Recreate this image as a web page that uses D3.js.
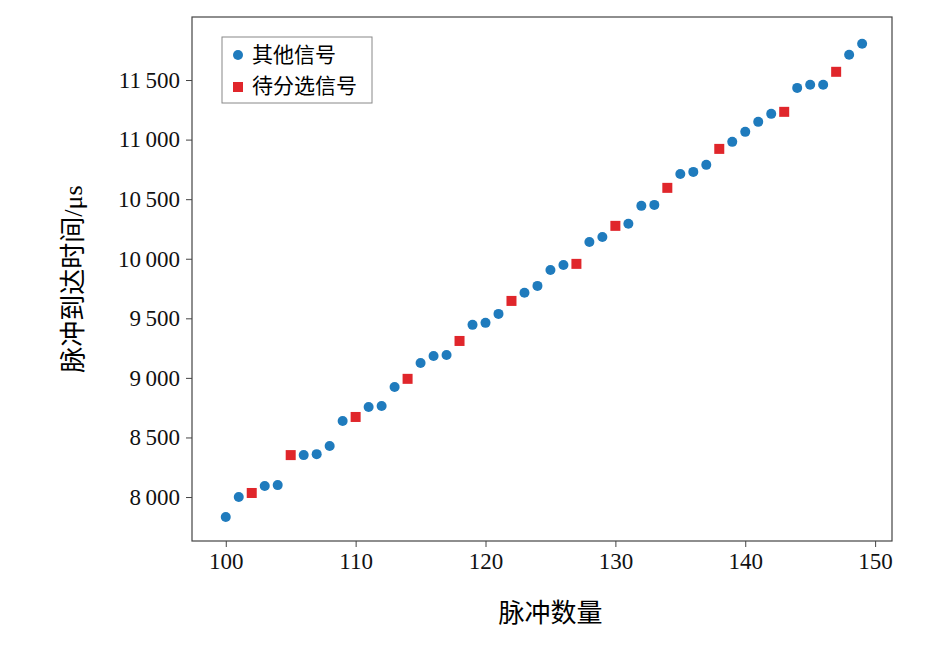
<!DOCTYPE html>
<html><head><meta charset="utf-8">
<script src="https://cdn.jsdelivr.net/npm/d3@7"></script>
<style>body{margin:0;background:#fff}</style>
</head><body><div id="view"></div>
<script>
var pulses = d3.range(100, 150);
var toa = [7832,8000,8034,8092,8100,8352,8352,8360,8428,8638,8672,8756,8764,8924,8992,9125,9184,9192,9310,9445,
  9462,9537,9646,9714,9772,9906,9948,9957,10141,10183,10276,10293,10444,10452,10595,10712,10729,10788,10922,10981,
  11065,11149,11216,11233,11434,11460,11460,11569,11712,11804];
var selected = [102,105,110,114,118,122,127,130,134,138,143,147];
var xTicks = [100,110,120,130,140,150];
var yTicks = [8000,8500,9000,9500,10000,10500,11000,11500];
var legendNames = ['其他信号','待分选信号'];

var W = 952, H = 649, L = 192, R = 892, T = 17, B = 541;
var font = "'Liberation Serif','Times New Roman',Times,'Noto Sans CJK SC',serif";
var x = d3.scaleLinear().domain([97.4, 151.3]).range([L, R]);
var y = d3.scaleLinear().domain([7631, 12029]).range([B, T]);

var svg = d3.select('#view').append('svg').attr('width', W).attr('height', H);

function fmt(v) { return Math.floor(v/1000) + '\u2009' + d3.format('03d')(v%1000); }

var gx = svg.append('g').attr('transform', 'translate(0,' + B + ')')
  .call(d3.axisBottom(x).tickValues(xTicks).tickSize(6).tickPadding(6));
var gy = svg.append('g').attr('transform', 'translate(' + L + ',0)')
  .call(d3.axisLeft(y).tickValues(yTicks).tickFormat(fmt).tickSize(6).tickPadding(6));
[gx, gy].forEach(function(g) {
  g.select('.domain').remove();
  g.selectAll('line').attr('stroke', '#444');
  g.selectAll('text').style('font-family', font).attr('font-size', 23).attr('fill', '#111');
});
svg.append('rect').attr('x', L).attr('y', T).attr('width', R - L).attr('height', B - T)
  .attr('fill', 'none').attr('stroke', '#444').attr('stroke-width', 1.2);

svg.append('text').attr('x', x(125)).attr('y', 622).attr('text-anchor', 'middle')
  .style('font-family', font).attr('font-size', 26).text('脉冲数量');
svg.append('text').attr('transform', 'translate(82,' + ((T + B) / 2) + ') rotate(-90)')
  .attr('text-anchor', 'middle').style('font-family', font).attr('font-size', 26).text('脉冲到达时间/μs');

var data = pulses.map(function(p, i) { return { p: p, t: toa[i], sel: selected.indexOf(p) >= 0 }; });
svg.selectAll('circle.pt').data(data.filter(function(d) { return !d.sel; })).enter()
  .append('circle').attr('class', 'pt').attr('cx', function(d) { return x(d.p); })
  .attr('cy', function(d) { return y(d.t); }).attr('r', 5).attr('fill', '#1f7bbd');
svg.selectAll('rect.pt').data(data.filter(function(d) { return d.sel; })).enter()
  .append('rect').attr('class', 'pt').attr('x', function(d) { return x(d.p) - 5; })
  .attr('y', function(d) { return y(d.t) - 5; }).attr('width', 10).attr('height', 10).attr('fill', '#e0262b');

var lg = svg.append('g');
lg.append('rect').attr('x', 222).attr('y', 37).attr('width', 150).attr('height', 66)
  .attr('fill', '#fff').attr('stroke', '#888');
lg.append('circle').attr('cx', 238).attr('cy', 55).attr('r', 5).attr('fill', '#1f7bbd');
lg.append('rect').attr('x', 233).attr('y', 82).attr('width', 10).attr('height', 10).attr('fill', '#e0262b');
legendNames.forEach(function(n, i) {
  lg.append('text').attr('x', 252).attr('y', 62 + i * 31).style('font-family', font)
    .attr('font-size', 21).text(n);
});
</script></body></html>
